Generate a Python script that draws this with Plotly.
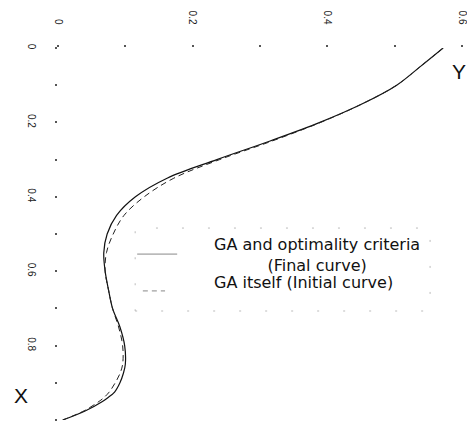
import plotly.graph_objects as go

# Position along the member (vertical axis, "X") and profile value (horizontal axis, "Y")
x_pos = [0.0, 0.05, 0.10, 0.15, 0.20, 0.25, 0.30, 0.35, 0.40, 0.45, 0.50, 0.55,
         0.60, 0.65, 0.70, 0.75, 0.80, 0.85, 0.875, 0.90, 0.925, 0.94, 0.95, 0.975, 1.0]
y_final = [0.572, 0.538, 0.503, 0.452, 0.389, 0.315, 0.236, 0.162, 0.115, 0.087, 0.073, 0.068,
           0.070, 0.075, 0.081, 0.092, 0.099, 0.100, 0.097, 0.092, 0.084, 0.074, 0.066, 0.041, 0.007]
y_initial = [0.572, 0.538, 0.503, 0.452, 0.390, 0.318, 0.240, 0.172, 0.128, 0.098, 0.082, 0.072,
             0.070, 0.075, 0.081, 0.090, 0.096, 0.096, 0.092, 0.085, 0.076, 0.068, 0.061, 0.039, 0.007]

top_tickvals = [0, 0.1, 0.2, 0.3, 0.4, 0.5, 0.6]
top_ticktext = ["0", "", "0.2", "", "0.4", "", "0.6"]
left_tickvals = [0, 0.1, 0.2, 0.3, 0.4, 0.5, 0.6, 0.7, 0.8, 0.9, 1.0]
left_ticktext = ["0", "", "0.2", "", "0.4", "", "0.6", "", "0.8", "", ""]

legend_final = "GA and optimality criteria"
legend_final2 = "(Final curve)"
legend_initial = "GA itself (Initial curve)"

FONT = "Liberation Sans, Arial, sans-serif"
LEGFONT = "DejaVu Sans, sans-serif"

fig = go.Figure()
fig.add_trace(go.Scatter(x=y_final, y=x_pos, mode="lines", line_shape="spline",
                         name=legend_final + " " + legend_final2,
                         line=dict(color="#111", width=1.2), showlegend=False))
fig.add_trace(go.Scatter(x=y_initial, y=x_pos, mode="lines", line_shape="spline",
                         name=legend_initial,
                         line=dict(color="#222", width=1, dash="6px,4px"), showlegend=False))

fig.update_layout(
    width=467, height=421, autosize=False,
    margin=dict(l=58, r=5, t=48, b=1),
    paper_bgcolor="white", plot_bgcolor="white",
    font=dict(family=FONT, color="#111"),
    xaxis=dict(side="top", range=[0, 0.6], tickvals=top_tickvals, ticktext=top_ticktext,
               tickangle=90, ticks="outside", ticklen=2, tickwidth=1.5, tickcolor="#555",
               ticklabelstandoff=17, tickfont=dict(size=10, color="#222"),
               ticklabeloverflow="allow",
               automargin=False, showgrid=False, zeroline=False, showline=False),
    yaxis=dict(range=[1.0, 0], tickvals=left_tickvals, ticktext=left_ticktext,
               tickangle=90, ticks="outside", ticklen=2, tickwidth=1.5, tickcolor="#555",
               ticklabelstandoff=15, tickfont=dict(size=10, color="#222"),
               ticklabeloverflow="allow",
               automargin=False, showgrid=False, zeroline=False, showline=False),
)

# axis names
fig.add_annotation(text="Y", xref="paper", yref="paper", x=0.992, y=0.938,
                   showarrow=False, font=dict(size=21, color="#111"),
                   xanchor="center", yanchor="middle")
fig.add_annotation(text="X", xref="paper", yref="paper", x=-0.0916, y=0.067,
                   showarrow=False, font=dict(size=21, color="#111"),
                   xanchor="center", yanchor="middle")

# legend (text + keys) drawn as annotations/shapes to match the reference layout
fig.add_annotation(text=legend_final + "<br>" + legend_final2, xref="paper", yref="paper",
                   x=0.381, y=0.444, showarrow=False, align="center",
                   font=dict(size=16, family=LEGFONT, color="#111"),
                   xanchor="left", yanchor="middle")
fig.add_annotation(text=legend_initial, xref="paper", yref="paper", x=0.381, y=0.370,
                   showarrow=False, font=dict(size=16, family=LEGFONT, color="#111"),
                   xanchor="left", yanchor="middle")
fig.add_shape(type="line", xref="paper", yref="paper", x0=0.196, x1=0.295, y0=0.446, y1=0.446,
              line=dict(color="#888", width=1))
fig.add_shape(type="line", xref="paper", yref="paper", x0=0.210, x1=0.265, y0=0.347, y1=0.347,
              line=dict(color="#888", width=1, dash="5px,4px"))
fig.add_shape(type="rect", xref="paper", yref="paper", x0=0.191, x1=0.921, y0=0.293, y1=0.516,
              line=dict(color="#bbb", width=1, dash="2px,24px"))

fig.write_html("out.html", config={"displayModeBar": False},
               post_script="document.body.style.margin='0';document.body.style.overflow='hidden';")
